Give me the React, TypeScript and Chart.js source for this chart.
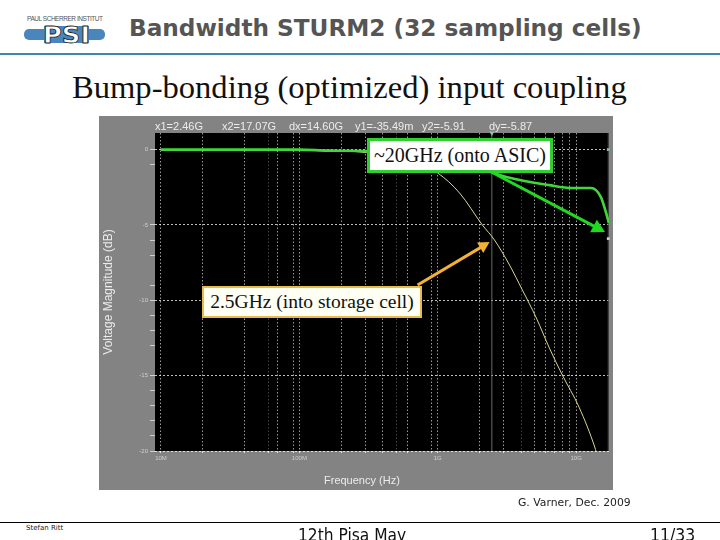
import { useEffect, useRef } from 'react';
import { Chart, registerables } from 'chart.js';

Chart.register(...registerables);

// yellow curve: into storage cell
const storageFreq = [1e7, 1e8, 3.06e8, 6.26e8, 1e9, 1.44e9, 2.1e9, 2.57e9, 3.3e9, 4.09e9, 5.16e9, 6.41e9, 7.95e9, 1.05e10, 1.37e10, 1.39e10];
const storageDb = [0, -0.03, -0.2, -0.75, -1.56, -2.89, -5, -6, -7.66, -9.32, -11.18, -13.17, -14.96, -17.09, -19.8, -20];

// green curve: onto ASIC
const asicFreq = [1e7, 1e8, 1.6e8, 3.06e8, 5.3e8, 1.22e9, 2.44e9, 3.13e9, 6.41e9, 9.4e9, 1.28e10, 1.51e10, 1.64e10, 1.726e10];
const asicDb = [0, 0, -0.07, -0.1, -0.23, -0.7, -1.49, -1.82, -2.36, -2.55, -2.55, -3.15, -4.15, -4.88];

const gridFreq = [1e7, 2e7, 4e7, 6e7, 7e7, 9e7, 1e8, 2e8, 3e8, 4e8, 5e8, 6e8, 9e8, 1e9, 2e9, 3e9, 4e9, 5e9, 6e9, 7e9, 8e9, 9e9, 1e10];
const faintFreq = [6e7, 5e8, 4e9];
const freqLabels: Record<number, string> = { 1e7: '10M', 1e8: '100M', 1e9: '1G', 1e10: '10G' };
const dbTicks = [0, -1, -5, -6, -7, -9, -10, -11, -12, -13, -15, -16, -17, -18, -19, -20];

const cursorX1 = 2.46e9;
const cursorX2 = 1.707e10;
const cursorY2 = -5.91;

const readouts = ['x1=2.46G', 'x2=17.07G', 'dx=14.60G', 'y1=-35.49m', 'y2=-5.91', 'dy=-5.87'];
const readoutLeft = [155, 222, 289, 355, 422, 489];

// callout arrows, [freq, dB] from -> to
const asicArrow = [[2.44e9, -1.49], [1.617e10, -5.47]];
const storageArrow = [[7.15e8, -8.99], [2.37e9, -6.14]];

const toPoints = (xs: number[], ys: number[]) => xs.map((x, i) => ({ x, y: ys[i] }));

const panelPlugin = {
  id: 'panel',
  beforeDraw(chart: any) {
    const { ctx, chartArea: a, width, height } = chart;
    ctx.save();
    ctx.fillStyle = '#838383';
    ctx.fillRect(0, 0, width, height);
    ctx.fillStyle = '#000';
    ctx.fillRect(a.left, a.top, a.right - a.left, a.bottom - a.top);
    ctx.restore();
  },
};

function drawArrow(chart: any, arrow: number[][], color: string, lineWidth: number, head: number) {
  const { ctx, scales } = chart;
  const x0 = scales.x.getPixelForValue(arrow[0][0]);
  const y0 = scales.y.getPixelForValue(arrow[0][1]);
  const x1 = scales.x.getPixelForValue(arrow[1][0]);
  const y1 = scales.y.getPixelForValue(arrow[1][1]);
  const angle = Math.atan2(y1 - y0, x1 - x0);
  ctx.save();
  ctx.strokeStyle = color;
  ctx.fillStyle = color;
  ctx.lineWidth = lineWidth;
  ctx.beginPath();
  ctx.moveTo(x0, y0);
  ctx.lineTo(x1 - Math.cos(angle) * head * 0.8, y1 - Math.sin(angle) * head * 0.8);
  ctx.stroke();
  ctx.translate(x1, y1);
  ctx.rotate(angle);
  ctx.beginPath();
  ctx.moveTo(0, 0);
  ctx.lineTo(-head, -head * 0.55);
  ctx.lineTo(-head, head * 0.55);
  ctx.closePath();
  ctx.fill();
  ctx.restore();
}

const arrowPlugin = {
  id: 'arrows',
  afterDatasetsDraw(chart: any) {
    drawArrow(chart, asicArrow, '#22d822', 3, 13);
    drawArrow(chart, storageArrow, '#f2b233', 3, 11);
  },
};

function PsiLogo() {
  return (
    <svg width={100} height={46} style={{ position: 'absolute', left: 15, top: 8 }}>
      <text x={12} y={12.5} fontSize={6.5} fill="#555" textLength={76} fontFamily="'Liberation Sans'">PAUL SCHERRER INSTITUT</text>
      <rect x={9} y={21} width={81} height={11} rx={5} fill="#4a86bb" />
      <rect x={29} y={18} width={45} height={17} fill="#4a86bb" />
      <text x={28} y={35} fontSize={23} fontWeight="bold" fill="#fff" stroke="#222" strokeWidth={0.8} textLength={47} lengthAdjust="spacingAndGlyphs" fontFamily="'DejaVu Sans'">PSI</text>
    </svg>
  );
}

function Label({ left, top, size, children, style }: any) {
  return (
    <div style={{ position: 'absolute', left, top, fontSize: size, lineHeight: 1, whiteSpace: 'nowrap', ...style }}>
      {children}
    </div>
  );
}

export default function App() {
  const chartRef = useRef<HTMLCanvasElement>(null);

  useEffect(() => {
    if (!chartRef.current) return;
    const chart = new Chart(chartRef.current, {
      type: 'line',
      data: {
        datasets: [
          {
            label: 'onto ASIC',
            data: toPoints(asicFreq, asicDb),
            borderColor: '#3fd83a',
            borderWidth: 2.6,
            pointRadius: 0,
            cubicInterpolationMode: 'monotone',
            order: 1,
          },
          {
            label: 'into storage cell',
            data: toPoints(storageFreq, storageDb),
            borderColor: '#d9d68c',
            borderWidth: 1,
            pointRadius: 0,
            cubicInterpolationMode: 'monotone',
            order: 2,
          },
          {
            label: 'x1',
            data: toPoints([cursorX1, cursorX1], [-20, 1.1]),
            borderColor: '#6a6a6a',
            borderWidth: 1,
            pointRadius: 0,
            order: 3,
          },
          {
            label: 'x2',
            data: toPoints([cursorX2, cursorX2], [-20, 1.1]),
            borderColor: '#555',
            borderWidth: 1,
            pointRadius: 0,
            order: 3,
          },
          {
            label: 'markers',
            data: toPoints([cursorX1, cursorX2, cursorX2], [1.1, 0, cursorY2]),
            showLine: false,
            clip: false,
            pointStyle: ['triangle', 'rect', 'rect'],
            pointRotation: [180, 0, 0],
            pointRadius: [3, 2, 2],
            pointBorderWidth: 0,
            pointBackgroundColor: ['#7fc9a8', '#7fb89a', '#d8c4c4'],
            order: 0,
          },
        ],
      } as any,
      options: {
        animation: false,
        responsive: false,
        layout: { padding: { top: 17, right: 2, left: 0, bottom: 0 } },
        plugins: {
          legend: { display: false },
          tooltip: { enabled: false },
        },
        scales: {
          x: {
            type: 'logarithmic',
            min: 9.05e6,
            max: 1.728e10,
            afterBuildTicks: (scale: any) => {
              scale.ticks = gridFreq.map((value) => ({ value }));
            },
            afterFit: (scale: any) => {
              scale.height = 39;
            },
            border: { display: false, dash: [1.5, 2] },
            grid: {
              color: (c: any) => (faintFreq.includes(c.tick?.value) ? 'rgba(255,255,255,0.25)' : 'rgba(255,255,255,0.6)'),
              tickColor: '#ddd',
              tickLength: 2,
            },
            ticks: {
              autoSkip: false,
              maxRotation: 0,
              padding: 2,
              color: '#d0d0d0',
              font: { family: "'Liberation Sans'", size: 6 },
              callback: (value: any) => freqLabels[value] ?? '',
            },
          },
          y: {
            min: -20,
            max: 1.1,
            afterBuildTicks: (scale: any) => {
              scale.ticks = dbTicks.map((value) => ({ value }));
            },
            afterFit: (scale: any) => {
              scale.width = 56;
            },
            border: { display: false, dash: [2, 2] },
            grid: {
              color: (c: any) => (c.tick?.value % 5 === 0 ? 'rgba(255,255,255,0.75)' : 'transparent'),
              tickColor: '#cfcfcf',
              tickLength: 5,
            },
            title: {
              display: true,
              text: 'Voltage Magnitude (dB)',
              color: '#ececec',
              font: { family: "'Liberation Sans'", size: 12 },
              padding: { top: 2, bottom: 0 },
            },
            ticks: {
              autoSkip: false,
              padding: 2,
              color: '#d0d0d0',
              font: { family: "'Liberation Sans'", size: 6 },
              callback: (value: any) => (value % 5 === 0 ? String(value) : ''),
            },
          },
        },
      },
      plugins: [panelPlugin, arrowPlugin],
    } as any);
    return () => chart.destroy();
  }, []);

  return (
    <div style={{ position: 'fixed', left: 0, top: 0, width: 720, height: 540, background: '#fff', overflow: 'hidden', fontFamily: "'DejaVu Sans'" }}>
      <PsiLogo />
      <Label left={129} top={16} size={23.2} style={{ fontWeight: 'bold', color: '#555' }}>Bandwidth STURM2 (32 sampling cells)</Label>
      <div style={{ position: 'absolute', left: 0, top: 53, width: 720, height: 2, background: '#3f86ad' }} />
      <Label left={72} top={71} size={32.6} style={{ fontFamily: "'Liberation Serif'", color: '#111' }}>Bump-bonding (optimized) input coupling</Label>

      <canvas ref={chartRef} width={514} height={374} style={{ position: 'absolute', left: 99, top: 116 }} />

      {readouts.map((text, i) => (
        <Label key={text} left={readoutLeft[i]} top={121} size={11} style={{ fontFamily: "'Liberation Sans'", color: '#ececec' }}>{text}</Label>
      ))}
      <Label left={324} top={475} size={11} style={{ fontFamily: "'Liberation Sans'", color: '#ececec' }}>Frequency (Hz)</Label>

      <div style={{ position: 'absolute', left: 367, top: 138, width: 180, height: 29, border: '3px solid #2fd02f', background: '#fff', fontFamily: "'Liberation Serif'", fontSize: 20, lineHeight: '29px', textAlign: 'center', color: '#111', whiteSpace: 'nowrap' }}>~20GHz (onto ASIC)</div>
      <div style={{ position: 'absolute', left: 202, top: 286, width: 216, height: 28, border: '2px solid #e8bb4c', background: '#fffff4', fontFamily: "'Liberation Serif'", fontSize: 19.5, lineHeight: '28px', textAlign: 'center', color: '#111', whiteSpace: 'nowrap' }}>2.5GHz (into storage cell)</div>

      <Label left={518} top={498} size={10.8} style={{ color: '#222' }}>G. Varner, Dec. 2009</Label>
      <div style={{ position: 'absolute', left: 0, top: 522, width: 720, height: 1, background: '#000' }} />
      <Label left={26} top={525} size={7} style={{ color: '#222' }}>Stefan Ritt</Label>
      <Label left={298} top={526} size={18} style={{ color: '#111', transform: 'scaleX(0.86)', transformOrigin: 'left' }}>12th Pisa May</Label>
      <Label left={650} top={526} size={18} style={{ color: '#111', transform: 'scaleX(0.87)', transformOrigin: 'left' }}>11/33</Label>
    </div>
  );
}
